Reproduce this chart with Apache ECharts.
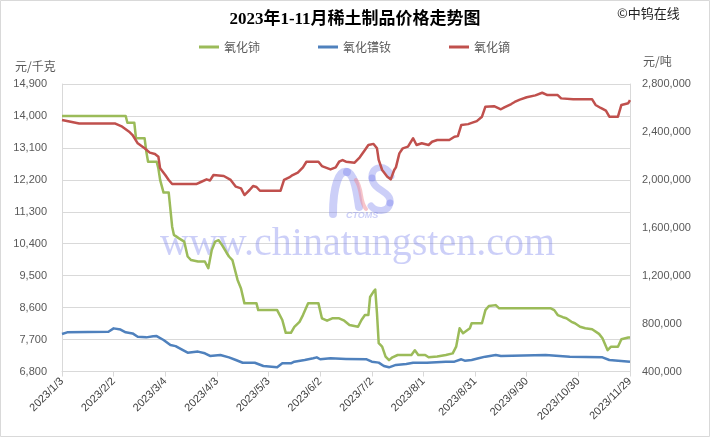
<!DOCTYPE html>
<html><head><meta charset="utf-8">
<script src="https://cdn.jsdelivr.net/npm/echarts@6/dist/echarts.min.js"></script>
<style>html,body{margin:0;padding:0;background:#fff}#c{width:710px;height:437px}</style>
</head><body><div id="c"></div>
<script>
const titleText = '2023年1-11月稀土制品价格走势图';
const seriesNames = ['氧化铈', '氧化镨钕', '氧化镝'];
const xTickLabels = ['2023/1/3','2023/2/2','2023/3/4','2023/4/3','2023/5/3','2023/6/2','2023/7/2','2023/8/1','2023/8/31','2023/9/30','2023/10/30','2023/11/29'];
const leftTicks = [6800, 14900, 900];
const rightTicks = [400000, 2800000, 400000];

const ceriumOxide = [['2023/1/3',14000],['2023/2/9',14000],['2023/2/10',13810],['2023/2/14',13810],['2023/2/15',13370],['2023/2/20',13370],['2023/2/21',12990],['2023/2/22',12710],['2023/2/27',12710],['2023/2/28',12520],['2023/3/1',12200],['2023/3/3',11840],['2023/3/6',11840],['2023/3/8',10880],['2023/3/9',10650],['2023/3/12',10550],['2023/3/15',10460],['2023/3/17',10040],['2023/3/19',9940],['2023/3/23',9900],['2023/3/27',9900],['2023/3/29',9710],['2023/3/30',9690],['2023/3/31',10220],['2023/4/2',10460],['2023/4/4',10500],['2023/4/6',10360],['2023/4/10',10040],['2023/4/12',9940],['2023/4/15',9380],['2023/4/17',9140],['2023/4/19',8720],['2023/4/26',8720],['2023/4/27',8530],['2023/5/8',8530],['2023/5/11',8250],['2023/5/13',7890],['2023/5/16',7890],['2023/5/18',8060],['2023/5/21',8200],['2023/5/23',8390],['2023/5/26',8720],['2023/6/1',8720],['2023/6/3',8300],['2023/6/6',8230],['2023/6/9',8300],['2023/6/13',8300],['2023/6/16',8230],['2023/6/19',8110],['2023/6/24',8060],['2023/6/26',8250],['2023/6/28',8390],['2023/6/30',8390],['2023/7/1',8900],['2023/7/3',9050],['2023/7/4',9110],['2023/7/5',8440],['2023/7/6',7600],['2023/7/8',7500],['2023/7/10',7220],['2023/7/12',7120],['2023/7/14',7200],['2023/7/17',7265],['2023/7/25',7265],['2023/7/27',7400],['2023/7/29',7265],['2023/8/2',7265],['2023/8/4',7200],['2023/8/9',7220],['2023/8/14',7265],['2023/8/18',7310],['2023/8/20',7500],['2023/8/22',8020],['2023/8/24',7880],['2023/8/26',7950],['2023/8/28',8020],['2023/8/29',8160],['2023/9/4',8160],['2023/9/6',8530],['2023/9/8',8645],['2023/9/12',8670],['2023/9/14',8580],['2023/10/14',8580],['2023/10/16',8530],['2023/10/18',8390],['2023/10/21',8330],['2023/10/23',8300],['2023/10/26',8200],['2023/10/28',8160],['2023/10/31',8060],['2023/11/3',8020],['2023/11/7',7990],['2023/11/11',7860],['2023/11/13',7735],['2023/11/16',7400],['2023/11/18',7500],['2023/11/22',7500],['2023/11/24',7710],['2023/11/28',7760],['2023/11/29',7760]];

const prndOxide = [['2023/1/3',713000],['2023/1/6',727000],['2023/1/30',732000],['2023/2/2',760000],['2023/2/6',750000],['2023/2/9',727000],['2023/2/13',718000],['2023/2/16',690000],['2023/2/21',685000],['2023/2/25',695000],['2023/2/27',696000],['2023/3/3',663000],['2023/3/7',621000],['2023/3/10',612000],['2023/3/14',580000],['2023/3/17',557000],['2023/3/23',566000],['2023/3/27',552000],['2023/3/30',530000],['2023/4/5',538000],['2023/4/10',518000],['2023/4/14',496000],['2023/4/18',473000],['2023/4/25',473000],['2023/4/30',446000],['2023/5/8',435000],['2023/5/11',468000],['2023/5/16',468000],['2023/5/18',482000],['2023/5/24',496000],['2023/5/29',510000],['2023/5/31',518000],['2023/6/2',502000],['2023/6/8',510000],['2023/6/17',505000],['2023/6/29',502000],['2023/7/2',482000],['2023/7/3',468000],['2023/7/6',474000],['2023/7/9',446000],['2023/7/12',435000],['2023/7/16',455000],['2023/7/22',463000],['2023/7/26',473000],['2023/8/3',473000],['2023/8/14',482000],['2023/8/19',482000],['2023/8/23',502000],['2023/8/25',490000],['2023/8/29',496000],['2023/9/2',510000],['2023/9/6',524000],['2023/9/12',538000],['2023/9/15',529000],['2023/10/11',538000],['2023/10/25',524000],['2023/11/13',518000],['2023/11/17',496000],['2023/11/29',482000]];

const dyOxide = [['2023/1/3',2500000],['2023/1/13',2470000],['2023/2/3',2470000],['2023/2/7',2444000],['2023/2/11',2402000],['2023/2/13',2374000],['2023/2/16',2305000],['2023/2/20',2263000],['2023/2/23',2227000],['2023/2/26',2216000],['2023/2/28',2193000],['2023/3/1',2096000],['2023/3/4',2040000],['2023/3/6',1999000],['2023/3/8',1965000],['2023/3/22',1965000],['2023/3/25',1984000],['2023/3/28',2004000],['2023/3/30',1995000],['2023/4/1',2040000],['2023/4/7',2032000],['2023/4/11',1999000],['2023/4/14',1943000],['2023/4/17',1929000],['2023/4/19',1873000],['2023/4/22',1915000],['2023/4/24',1948000],['2023/4/26',1940000],['2023/4/28',1909000],['2023/5/10',1909000],['2023/5/12',1999000],['2023/5/15',2020000],['2023/5/17',2040000],['2023/5/20',2060000],['2023/5/23',2104000],['2023/5/25',2151000],['2023/6/1',2151000],['2023/6/3',2115000],['2023/6/8',2087000],['2023/6/11',2104000],['2023/6/13',2151000],['2023/6/15',2165000],['2023/6/17',2151000],['2023/6/22',2143000],['2023/6/25',2188000],['2023/6/28',2249000],['2023/6/30',2291000],['2023/7/3',2300000],['2023/7/5',2263000],['2023/7/6',2166000],['2023/7/8',2082000],['2023/7/11',2026000],['2023/7/13',2004000],['2023/7/15',2082000],['2023/7/16',2104000],['2023/7/18',2221000],['2023/7/20',2263000],['2023/7/23',2277000],['2023/7/26',2347000],['2023/7/28',2291000],['2023/7/31',2305000],['2023/8/4',2291000],['2023/8/6',2318000],['2023/8/9',2332000],['2023/8/16',2332000],['2023/8/19',2360000],['2023/8/21',2365000],['2023/8/23',2458000],['2023/8/27',2465000],['2023/8/29',2475000],['2023/9/1',2490000],['2023/9/4',2527000],['2023/9/6',2611000],['2023/9/11',2615000],['2023/9/15',2589000],['2023/9/17',2605000],['2023/9/21',2633000],['2023/9/23',2650000],['2023/9/26',2670000],['2023/9/30',2689000],['2023/10/5',2705000],['2023/10/9',2727000],['2023/10/10',2740000],['2023/10/12',2708000],['2023/10/18',2708000],['2023/10/20',2680000],['2023/10/27',2672000],['2023/11/7',2672000],['2023/11/9',2625000],['2023/11/12',2600000],['2023/11/15',2577000],['2023/11/17',2527000],['2023/11/22',2527000],['2023/11/24',2625000],['2023/11/28',2640000],['2023/11/29',2665000]];

const startMs = Date.UTC(2023, 0, 3);
function dayOf(s) { const p = s.split('/').map(Number); return Math.round((Date.UTC(p[0], p[1] - 1, p[2]) - startMs) / 86400000); }
function toXY(arr) { return arr.map(d => [dayOf(d[0]), d[1]]); }
const fmt = v => Number(v).toLocaleString('en-US');
const gray = '#595959', lineGray = '#d9d9d9';
const lavender = 'rgba(120,128,236,0.38)';
function curve(x1, y1, c1x, c1y, c2x, c2y, x2, y2, color, w) {
  return { type: 'bezierCurve', z: 1, silent: true,
    shape: { x1: x1, y1: y1, cpx1: c1x, cpy1: c1y, cpx2: c2x, cpy2: c2y, x2: x2, y2: y2 },
    style: { fill: null, stroke: color, lineWidth: w, lineCap: 'round' } };
}

const chart = echarts.init(document.getElementById('c'), null, { renderer: 'canvas' });
chart.setOption({
  animation: false,
  backgroundColor: '#fff',
  title: { text: titleText, left: 'center', top: 11, padding: 0,
    textStyle: { fontSize: 17, fontWeight: 'bold', color: '#000', fontFamily: "'Liberation Serif','Noto Sans CJK SC',serif" } },
  legend: { left: 199, top: 41, padding: 0, itemGap: 58, itemWidth: 20, itemHeight: 3, icon: 'rect',
    textStyle: { fontSize: 12, color: gray, fontFamily: "'Noto Sans CJK SC',sans-serif" },
    data: seriesNames },
  grid: { left: 62, right: 80, top: 84, bottom: 65.5, containLabel: false },
  xAxis: { type: 'value', min: 0, max: 330, interval: 30,
    axisLine: { show: true, lineStyle: { color: lineGray, width: 1 } },
    axisTick: { show: true, length: 5, lineStyle: { color: lineGray } },
    splitLine: { show: false },
    axisLabel: { rotate: 45, fontSize: 11, color: '#404040', margin: 8, fontFamily: "'Liberation Sans',Arial,sans-serif",
      formatter: v => xTickLabels[Math.round(v / 30)] || '' } },
  yAxis: [
    { type: 'value', min: leftTicks[0], max: leftTicks[1], interval: leftTicks[2],
      axisLine: { show: true, lineStyle: { color: lineGray } }, axisTick: { show: false },
      splitLine: { show: true, lineStyle: { color: lineGray } },
      axisLabel: { fontSize: 11, color: gray, margin: 15, formatter: fmt, fontFamily: "'Liberation Sans',Arial,sans-serif" } },
    { type: 'value', min: rightTicks[0], max: rightTicks[1], interval: rightTicks[2], position: 'right',
      axisLine: { show: true, lineStyle: { color: lineGray } }, axisTick: { show: false },
      splitLine: { show: false },
      axisLabel: { fontSize: 11, color: gray, margin: 12, formatter: fmt, fontFamily: "'Liberation Sans',Arial,sans-serif" } }
  ],
  graphic: [
    { type: 'rect', z: 100, silent: true, shape: { x: 0.5, y: 0.5, width: 709, height: 436 }, style: { fill: null, stroke: lineGray, lineWidth: 1 } },
    { type: 'text', left: 617, top: 7, style: { text: '©中钨在线', fontSize: 13, fill: '#222', fontFamily: "'Noto Sans CJK SC',sans-serif" } },
    { type: 'text', left: 15, top: 60, style: { text: '元/千克', fontSize: 12, fill: gray, fontFamily: "'Noto Sans CJK SC',sans-serif" } },
    { type: 'text', left: 643, top: 55, style: { text: '元/吨', fontSize: 12, fill: gray, fontFamily: "'Noto Sans CJK SC',sans-serif" } },
    { type: 'text', z: 1, silent: true, left: 160, top: 224, style: { text: 'www.chinatungsten.com', fontSize: 40, fill: lavender, fontFamily: "'Liberation Serif',serif" } },
    curve(333, 214, 333, 186, 339, 170, 347, 172, lavender, 8),
    curve(347, 172, 355, 174, 357, 194, 359, 207, lavender, 8),
    curve(356, 180, 363, 190, 359, 201, 366, 209, 'rgba(240,140,150,0.5)', 4),
    curve(391, 176, 387, 164, 371, 165, 372, 178, lavender, 7),
    curve(372, 178, 373, 191, 392, 191, 390, 203, lavender, 7),
    curve(390, 203, 388, 213, 376, 212, 371, 206, lavender, 7),
    { type: 'text', z: 1, silent: true, left: 346, top: 211, style: { text: 'CTOMS', fontSize: 9, fontStyle: 'italic', fontWeight: 'bold', fill: lavender, fontFamily: "'Liberation Sans',sans-serif" } }
  ],
  series: [
    { name: seriesNames[0], type: 'line', yAxisIndex: 0, showSymbol: false, data: toXY(ceriumOxide), color: '#9bbb59', lineStyle: { width: 2.5, color: '#9bbb59', join: 'round' } },
    { name: seriesNames[1], type: 'line', yAxisIndex: 1, showSymbol: false, data: toXY(prndOxide), color: '#4f81bd', lineStyle: { width: 2.5, color: '#4f81bd', join: 'round' } },
    { name: seriesNames[2], type: 'line', yAxisIndex: 1, showSymbol: false, data: toXY(dyOxide), color: '#c0504d', lineStyle: { width: 2.5, color: '#c0504d', join: 'round' } }
  ]
});
</script></body></html>
